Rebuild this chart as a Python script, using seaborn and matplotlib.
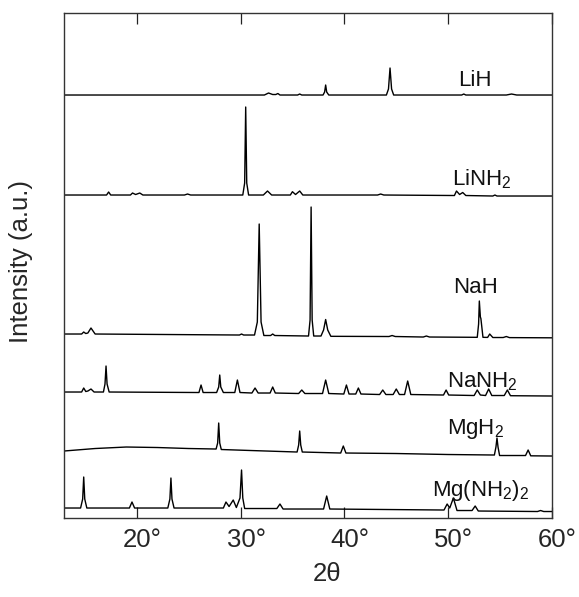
import pandas as pd
import matplotlib
matplotlib.use('Agg')
import matplotlib.pyplot as plt
import matplotlib.transforms as mtransforms
import seaborn as sns

# --- Data (intensity in a.u.) ---
phases = ['LiH', 'LiNH2', 'NaH', 'NaNH2', 'MgH2', 'Mg(NH2)2']
labels = ['LiH', 'LiNH$_2$', 'NaH', 'NaNH$_2$', 'MgH$_2$', 'Mg(NH$_2$)$_2$']
offsets = [423, 323, 184, 126, 67, 10]

lih_x = [13, 32.3, 32.7, 33.1, 33.4, 33.6, 33.8, 35.5, 35.7, 35.9, 37.95, 38.1, 38.2, 38.3, 38.5,
         44.05, 44.25, 44.4, 44.55, 44.75, 51.3, 51.5, 51.7, 55.6, 56.1, 56.6, 60]
lih_y = [0, 0, 2, 0.5, 0.5, 1.5, 0, 0, 1, 0, 0, 3, 10, 3, 0,
         0, 6, 27, 6, 0, 0, 1, 0, 0, 1, 0, 0]

linh2_x = [13, 17.1, 17.3, 17.5, 19.4, 19.6, 19.9, 20.3, 20.6, 24.6, 24.9, 25.2,
           30.22, 30.4, 30.5, 30.6, 30.78, 32.2, 32.6, 33.0, 34.8, 35.0, 35.3, 35.7, 36.0,
           43.2, 43.5, 43.8, 50.6, 50.8, 51.1, 51.4, 51.7, 54.3, 54.5, 54.7, 60]
linh2_y = [0, 0, 3, 0, 0, 2, 0.5, 2, 0, 0, 1, 0,
           0, 12, 88, 12, 0, 0, 4, 0, 0, 3.3, 0.5, 4, 0,
           0, 1, 0, -0.5, 4, 0.5, 2.5, -0.5, -1, 0, -1, -1]

nah_x = [13, 14.7, 14.9, 15.1, 15.3, 15.6, 16.0, 29.9, 30.1, 30.3,
         31.35, 31.62, 31.8, 31.98, 32.25, 32.9, 33.1, 33.3,
         36.55, 36.7, 36.8, 36.9, 37.05, 37.75, 38.0, 38.2, 38.4, 38.7,
         44.3, 44.6, 44.9, 47.6, 47.9, 48.2,
         52.8, 52.93, 53.0, 53.1, 53.15, 53.35, 53.8, 54.0, 54.3, 55.3, 55.6, 55.9, 60]
nah_y = [0, 0, 2, 0.5, 1, 6, 0, -1, 0, -1,
         -1, 12, 110, 12, -1.5, -1.5, 0, -1.5,
         -2, 14, 127, 14, -2, -2, 4, 14.5, 4, -2.3,
         -2.5, -1.5, -2.5, -3, -2, -3,
         -3.3, 10, 33, 17, 15.5, -3.3, -3.4, 0, -3.5, -3.5, -2.5, -3.6, -3.8]

nanh2_x = [13, 14.7, 14.9, 15.1, 15.3, 15.6, 15.9, 16.8, 16.95, 17.05, 17.15, 17.35,
           26.0, 26.2, 26.4, 27.7, 27.9, 28.0, 28.1, 28.35, 29.45, 29.7, 29.95,
           31.1, 31.4, 31.7, 32.85, 33.1, 33.35, 35.6, 35.9, 36.2,
           37.9, 38.2, 38.5, 39.95, 40.2, 40.45, 41.1, 41.35, 41.6,
           43.4, 43.7, 44.0, 44.7, 45.0, 45.3, 45.8, 46.1, 46.4,
           49.55, 49.8, 50.05, 52.5, 52.8, 53.1, 53.6, 53.9, 54.2, 55.4, 55.7, 56.0, 60]
nanh2_y = [0, 0, 4, 0.5, 1, 3, 0, 0, 8, 26, 8, 0,
           -0.5, 7, -0.5, -0.5, 5, 17, 5, -0.5, -0.5, 12, -0.5,
           -1, 4, -1, -1, 5, -1, -1.5, 2, -1.5,
           -1.5, 12, -1.5, -2, 7, -2, -2, 4, -2,
           -2.5, 2, -2.5, -2.5, 3, -2.5, -2.5, 11, -2.5,
           -3, 2, -3, -3.5, 2, -3, -3.5, 3, -3.5, -3.5, 2, -3.7, -4]

mgh2_x = [13, 16, 19, 22, 25, 27.65, 27.8, 27.9, 28.0, 28.15, 31, 35.45, 35.6, 35.7, 35.8, 35.95,
          39.65, 39.9, 40.15, 45, 50, 54.45, 54.6, 54.7, 54.8, 54.95, 57.45, 57.7, 57.95, 60]
mgh2_y = [0, 2.5, 4, 3.5, 2.5, 2, 8, 28, 8, 1.5, 0.5, -1, 6, 20, 6, -1,
          -2, 5, -2, -2.5, -3.5, -4, 4, 13, 4, -4.5, -4.5, 1, -4.8, -5]

mgnh22_x = [13, 14.6, 14.8, 14.9, 15.0, 15.2, 19.3, 19.55, 19.8,
            23.0, 23.2, 23.3, 23.4, 23.6,
            28.35, 28.6, 28.9, 29.3, 29.6, 29.95, 30.1, 30.22, 30.4,
            33.5, 33.8, 34.1, 38.0, 38.3, 38.6, 49.6, 49.9, 50.15, 50.5, 50.85,
            52.3, 52.6, 52.9, 58.6, 58.9, 59.2, 60]
mgnh22_y = [0, 0, 9, 31, 9, 0, 0, 6, 0,
            0, 9, 30, 9, 0,
            0, 6, 1.5, 8, 0.5, 10, 38, 10, -0.5,
            -0.5, 4, -1, -1, 12, -1, -2, 4, 0, 10, -2.5,
            -2.5, 2, -3, -3.5, -2.5, -3.5, -3.5]

series_x = [lih_x, linh2_x, nah_x, nanh2_x, mgh2_x, mgnh22_x]
series_y = [lih_y, linh2_y, nah_y, nanh2_y, mgh2_y, mgnh22_y]

frames = []
for name, xs, ys, off in zip(phases, series_x, series_y, offsets):
    part = pd.DataFrame({'two_theta': xs, 'intensity': ys})
    part['phase'] = name
    part['shifted'] = part['intensity'] + off
    frames.append(part)
df = pd.concat(frames, ignore_index=True)

xticks = [20, 30, 40, 50, 60]

# label anchor positions (left edge, text baseline) in data units
label_x = [51.0, 50.35, 50.45, 49.87, 49.87, 48.4]
label_y = [432, 333, 225, 131, 84, 22]

# --- Plot ---
sns.set_style('ticks')
plt.rcParams['font.family'] = ['Liberation Sans', 'DejaVu Sans']
plt.rcParams['mathtext.fontset'] = 'custom'
plt.rcParams['mathtext.rm'] = 'Liberation Sans'
plt.rcParams['mathtext.it'] = 'Liberation Sans:italic'

fig = plt.figure(figsize=(5.79, 5.97), dpi=100)
ax = fig.add_axes([0.1105, 0.1323, 0.8429, 0.8459])

sns.lineplot(data=df, x='two_theta', y='shifted', hue='phase', units='phase',
             palette=['black'] * len(phases), estimator=None, sort=False,
             legend=False, linewidth=1.0, ax=ax)

for lab, lx, ly in zip(labels, label_x, label_y):
    ax.text(lx, ly, lab, fontsize=16, ha='left', va='baseline', color='#111111')

ax.set_xlim(13, 60)
ax.set_ylim(0, 505)
ax.set_xticks(xticks)
ax.set_xticklabels([f'{t}°' for t in xticks])
ax.set_yticks([])

ax.tick_params(axis='x', direction='in', length=8, width=0.9, top=True, bottom=True,
               labelsize=18.5, pad=7, color='#222222')
shift = mtransforms.ScaledTranslation(0.055, 0, fig.dpi_scale_trans)
for lbl in ax.get_xticklabels():
    lbl.set_transform(lbl.get_transform() + shift)

for side in ['left', 'right', 'top', 'bottom']:
    ax.spines[side].set_visible(True)
    ax.spines[side].set_linewidth(1.0)
    ax.spines[side].set_color('#333333')

ax.set_xlabel('2θ', fontsize=18.5)
ax.set_ylabel('Intensity (a.u.)', fontsize=18.5)
ax.xaxis.set_label_coords(0.539, -0.088)
ax.yaxis.set_label_coords(-0.064, 0.508)

fig.savefig('out.png', dpi=100)
plt.close(fig)
